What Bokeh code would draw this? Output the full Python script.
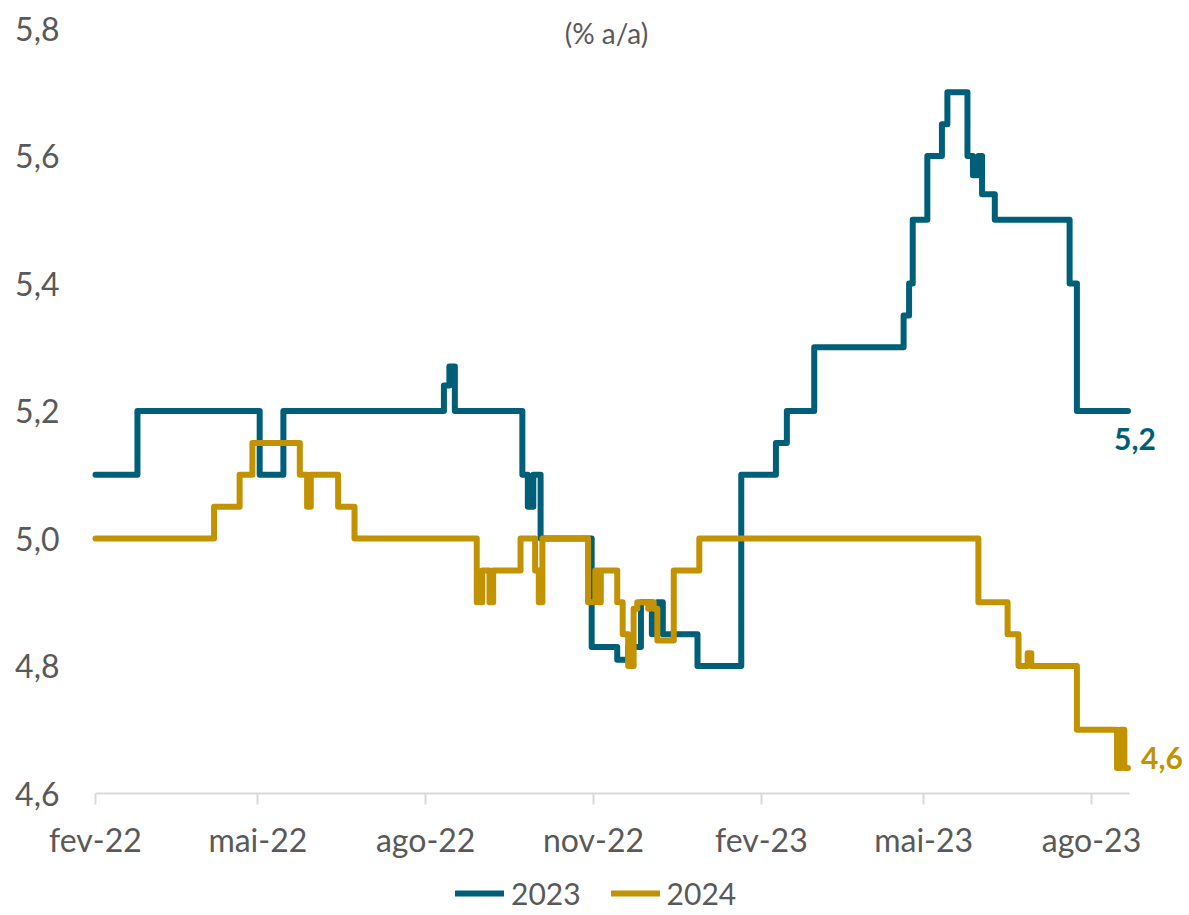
import pandas as pd
from datetime import datetime, timedelta
from bokeh.plotting import figure
from bokeh.models import Range1d, FixedTicker, Legend, LegendItem, Label, ColumnDataSource
from bokeh.embed import file_html
from bokeh.resources import INLINE
from bokeh.core.properties import value

# ---- data ----
dates_2023 = ["2022-02-01", "2022-02-24", "2022-05-02", "2022-05-15", "2022-08-11", "2022-08-14",
              "2022-08-17", "2022-09-23", "2022-09-26", "2022-09-29", "2022-10-03", "2022-10-31",
              "2022-11-14", "2022-11-20", "2022-11-27", "2022-12-03", "2022-12-06", "2022-12-09",
              "2022-12-28", "2023-01-21", "2023-02-09", "2023-02-15", "2023-03-02", "2023-04-20",
              "2023-04-23", "2023-04-25", "2023-05-03", "2023-05-11", "2023-05-14", "2023-05-25",
              "2023-05-28", "2023-05-31", "2023-06-02", "2023-06-09", "2023-07-20", "2023-07-24",
              "2023-08-21"]
values_2023 = [5.10, 5.20, 5.10, 5.20, 5.24, 5.27, 5.20, 5.10, 5.05, 5.10, 5.00, 4.83, 4.81, 4.83,
               4.90, 4.85, 4.90, 4.85, 4.80, 5.10, 5.15, 5.20, 5.30, 5.35, 5.40, 5.50, 5.60, 5.65,
               5.70, 5.60, 5.57, 5.60, 5.54, 5.50, 5.40, 5.20, 5.20]

dates_2024 = ["2022-02-01", "2022-04-07", "2022-04-21", "2022-04-28", "2022-05-24", "2022-05-28",
              "2022-05-30", "2022-06-14", "2022-06-23", "2022-08-29", "2022-09-01", "2022-09-05",
              "2022-09-07", "2022-09-22", "2022-09-30", "2022-10-02", "2022-10-04", "2022-10-29",
              "2022-11-02", "2022-11-04", "2022-11-05", "2022-11-14", "2022-11-17", "2022-11-20",
              "2022-11-23", "2022-11-25", "2022-12-01", "2022-12-02", "2022-12-04", "2022-12-06",
              "2022-12-15", "2022-12-29", "2023-05-31", "2023-06-16", "2023-06-22", "2023-06-27",
              "2023-06-29", "2023-07-24", "2023-08-15", "2023-08-17", "2023-08-19", "2023-08-21"]
values_2024 = [5.00, 5.05, 5.10, 5.15, 5.10, 5.05, 5.10, 5.05, 5.00, 4.90, 4.95, 4.90, 4.95, 5.00,
               4.95, 4.90, 5.00, 4.90, 4.95, 4.90, 4.95, 4.90, 4.85, 4.80, 4.89, 4.90, 4.89, 4.90,
               4.89, 4.84, 4.95, 5.00, 4.90, 4.85, 4.80, 4.82, 4.80, 4.70, 4.64, 4.70, 4.64, 4.64]

series_names = ["2023", "2024"]
series_colors = ["#005F78", "#C39200"]

x_tick_dates = ["2022-02-01", "2022-05-01", "2022-08-01", "2022-11-01", "2023-02-01", "2023-05-01", "2023-08-01"]
x_tick_labels = ["fev-22", "mai-22", "ago-22", "nov-22", "fev-23", "mai-23", "ago-23"]
y_ticks = [4.6, 4.8, 5.0, 5.2, 5.4, 5.6, 5.8]
y_tick_labels = ["4,6", "4,8", "5,0", "5,2", "5,4", "5,6", "5,8"]
title_text = "(% a/a)"

FONT = "Lato"
GRAY = "#595959"

# ---- layout constants (pixels) ----
W, H = 1189, 915
AXIS_X_PX = 95        # where the first date sits
PX_PER_DAY = 996 / 546
PX_PER_UNIT = 127.5 / 0.2
Y_TOP_PX = 28         # where 5.8 sits

x_start = datetime(2022, 2, 1)
x_axis_end = datetime(2023, 8, 22)
x_view_start = x_start - timedelta(days=AXIS_X_PX / PX_PER_DAY)
x_view_end = x_start + timedelta(days=(W - AXIS_X_PX) / PX_PER_DAY)
y_max, y_min = y_ticks[-1], y_ticks[0]
y_view_top = y_max + Y_TOP_PX / PX_PER_UNIT
y_view_bot = y_max - (H - Y_TOP_PX) / PX_PER_UNIT

p = figure(width=W, height=H, x_axis_type="datetime",
           x_range=Range1d(x_view_start, x_view_end), y_range=Range1d(y_view_bot, y_view_top),
           output_backend="svg", toolbar_location=None,
           min_border_left=0, min_border_right=0, min_border_top=0, min_border_bottom=0)
p.outline_line_color = None
p.xgrid.visible = False
p.ygrid.visible = False
p.background_fill_color = "white"
p.border_fill_color = "white"

renderers = []
for d, v, c in [(dates_2023, values_2023, series_colors[0]),
                (dates_2024, values_2024, series_colors[1])]:
    src = ColumnDataSource(dict(x=pd.to_datetime(d), y=v))
    r = p.step("x", "y", source=src, mode="after", line_color=c, line_width=6,
               line_join="round", line_cap="round")
    renderers.append(r)

# end labels (last value of each series)
lab_src_a = ColumnDataSource(dict(x=[pd.to_datetime(dates_2023[-1])], y=[values_2023[-1]],
                                  t=[f"{values_2023[-1]:.1f}".replace(".", ",")]))
p.text("x", "y", text="t", source=lab_src_a, text_color=series_colors[0], text_font=value(FONT),
       text_font_size="30px", text_font_style="bold", text_align="center", text_baseline="middle",
       x_offset=7, y_offset=28)
lab_src_b = ColumnDataSource(dict(x=[pd.to_datetime(dates_2024[-1])], y=[values_2024[-1]],
                                  t=[f"{values_2024[-1]:.1f}".replace(".", ",")]))
p.text("x", "y", text="t", source=lab_src_b, text_color=series_colors[1], text_font=value(FONT),
       text_font_size="30px", text_font_style="bold", text_align="left", text_baseline="middle",
       x_offset=13, y_offset=-10)

# x axis (pinned at the bottom value)
xt = [pd.Timestamp(s).value / 1e6 for s in x_tick_dates]
xa = p.xaxis[0]
xa.fixed_location = y_min
xa.ticker = FixedTicker(ticks=xt)
xa.major_label_overrides = {t: l for t, l in zip(xt, x_tick_labels)}
xa.bounds = (x_start, x_axis_end)
xa.axis_line_color = "#D9D9D9"
xa.axis_line_width = 2
xa.major_tick_line_color = "#D9D9D9"
xa.major_tick_line_width = 2
xa.major_tick_in = 0
xa.major_tick_out = 11
xa.minor_tick_line_color = None
xa.major_label_standoff = 15
xa.major_label_text_font = FONT
xa.major_label_text_font_size = "32px"
xa.major_label_text_color = GRAY

# y axis (pinned at the first date)
ya = p.yaxis[0]
ya.fixed_location = pd.Timestamp(x_start).value / 1e6
ya.ticker = FixedTicker(ticks=y_ticks)
ya.major_label_overrides = {t: l for t, l in zip(y_ticks, y_tick_labels)}
ya.bounds = (y_min, y_max)
ya.axis_line_color = None
ya.major_tick_line_color = None
ya.minor_tick_line_color = None
ya.major_tick_in = 0
ya.major_tick_out = 0
ya.major_label_standoff = 36
ya.major_label_text_font = FONT
ya.major_label_text_font_size = "32px"
ya.major_label_text_color = GRAY

# title
p.add_layout(Label(x=606, y=H - 32, x_units="screen", y_units="screen", text=title_text,
                   text_align="center", text_baseline="middle", text_font=FONT,
                   text_font_size="28px", text_color=GRAY))

legend = Legend(items=[LegendItem(label=series_names[i], renderers=[renderers[i]]) for i in range(2)],
                orientation="horizontal", location=(455, 4))
legend.border_line_color = None
legend.background_fill_alpha = 0
legend.glyph_width = 49
legend.glyph_height = 20
legend.label_height = 20
legend.label_standoff = 7
legend.spacing = 30
legend.padding = 0
legend.margin = 0
legend.label_text_font = FONT
legend.label_text_font_size = "30px"
legend.label_text_color = GRAY
p.add_layout(legend)

open("out.html", "w").write(file_html(p, INLINE))
